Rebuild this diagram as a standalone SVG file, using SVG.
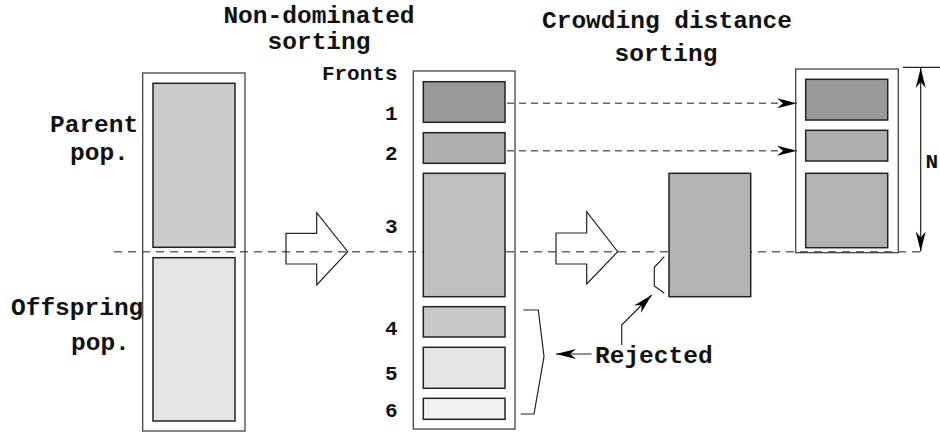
<svg xmlns="http://www.w3.org/2000/svg" width="940" height="433" viewBox="0 0 940 433">
<defs>
<style>
.t{font-family:"Liberation Mono","Courier New",monospace;font-weight:bold;fill:#111;}
.big{font-size:24.5px;}
.sm{font-size:21px;}
.outer{fill:none;stroke:#444;stroke-width:1.3;}
.inner{stroke:#222;stroke-width:1.5;}
.hollow{fill:none;stroke:#222;stroke-width:1.2;}
.dash{fill:none;stroke:#666;stroke-width:1.5;stroke-dasharray:8 6;}
.dash2{fill:none;stroke:#666;stroke-width:1.5;stroke-dasharray:7 5;}
.thin{fill:none;stroke:#222;stroke-width:1.2;}
</style>
<marker id="ah" markerUnits="userSpaceOnUse" markerWidth="24" markerHeight="14" viewBox="-22 -7 24 14" refX="0" refY="0" orient="auto">
<path d="M0,0 L-20,-5 L-14,0 L-20,5 Z" fill="#000"/>
</marker>
</defs>
<rect width="940" height="433" fill="#fff"/>

<g id="connectors">
<line class="dash" x1="114" y1="251.7" x2="925" y2="251.7"/>
<line class="dash2" x1="507" y1="103.3" x2="797" y2="103.3" marker-end="url(#ah)"/>
<line class="dash2" x1="507" y1="150.7" x2="797" y2="150.7" marker-end="url(#ah)"/>
<polygon class="hollow" points="286,233.3 316.7,233.3 316.7,212.7 347.7,251.7 316.7,285 316.7,264 286,264"/>
<polygon class="hollow" points="556,233 586.7,233 586.7,211.7 617.7,251.7 586.7,284 586.7,264 556,264"/>
<polyline class="thin" points="664.3,256.7 654.3,267.3 654.3,286 664.3,293.3"/>
<polyline class="thin" points="523.3,310 538.3,310 544,356.7 534,414 520.7,414"/>
<polyline class="thin" points="621.7,345 621.7,325 651.7,295" marker-end="url(#ah)"/>
<line class="thin" x1="591.7" y1="354" x2="556" y2="354" marker-end="url(#ah)"/>
<line class="thin" x1="903" y1="67.3" x2="940" y2="67.3"/>
<line class="thin" x1="920.7" y1="159" x2="920.7" y2="68" marker-end="url(#ah)"/>
<line class="thin" x1="920.7" y1="159" x2="920.7" y2="251.5" marker-end="url(#ah)"/>
</g>

<g id="titles">
<text class="t big" x="319" y="23.3" text-anchor="middle">Non-dominated</text>
<text class="t big" x="319" y="49.3" text-anchor="middle">sorting</text>
<text class="t big" x="667" y="28" text-anchor="middle">Crowding distance</text>
<text class="t big" x="666" y="61" text-anchor="middle">sorting</text>
</g>

<g id="population">
<rect class="outer" x="142.7" y="73" width="102.3" height="358"/>
<rect class="inner" x="153" y="83.3" width="82" height="164" fill="#cccccc"/>
<rect class="inner" x="153" y="257.7" width="82" height="163.3" fill="#e5e5e5"/>
<text class="t big" x="50" y="131.7">Parent</text>
<text class="t big" x="70" y="160">pop.</text>
<text class="t big" x="11" y="315">Offspring</text>
<text class="t big" x="71" y="350">pop.</text>
</g>

<g id="fronts">
<rect class="outer" x="413.3" y="71" width="101.7" height="358"/>
<rect class="inner" x="423.3" y="81.7" width="81.7" height="40.6" fill="#999999"/>
<rect class="inner" x="423.3" y="132.7" width="81.7" height="30.6" fill="#b0b0b0"/>
<rect class="inner" x="423.3" y="173.3" width="81.7" height="123.4" fill="#bfbfbf"/>
<rect class="inner" x="423.3" y="306.7" width="81.7" height="30.3" fill="#c8c8c8"/>
<rect class="inner" x="423.3" y="347.3" width="81.7" height="41" fill="#e5e5e5"/>
<rect class="inner" x="423.3" y="398.3" width="81.7" height="21" fill="#f2f2f2"/>
<text class="t sm" x="397.5" y="80" text-anchor="end">Fronts</text>
<text class="t sm" x="397.5" y="120" text-anchor="end">1</text>
<text class="t sm" x="397.5" y="160" text-anchor="end">2</text>
<text class="t sm" x="397.5" y="232.7" text-anchor="end">3</text>
<text class="t sm" x="397.5" y="335" text-anchor="end">4</text>
<text class="t sm" x="397.5" y="380" text-anchor="end">5</text>
<text class="t sm" x="397.5" y="416.7" text-anchor="end">6</text>
</g>

<g id="crowding">
<rect class="inner" x="669" y="173.3" width="81.7" height="123.4" fill="#b3b3b3"/>
</g>

<g id="newpop">
<rect class="outer" x="795.7" y="69" width="102.6" height="183.7"/>
<rect class="inner" x="805.7" y="79.3" width="82" height="40.7" fill="#999999"/>
<rect class="inner" x="805.7" y="130.3" width="82" height="30.7" fill="#b0b0b0"/>
<rect class="inner" x="805.7" y="173.3" width="82" height="74.4" fill="#b3b3b3"/>
<text class="t sm" x="925.5" y="168.3">N</text>
</g>

<g id="rejected">
<text class="t big" x="595" y="363.3">Rejected</text>
</g>
</svg>
